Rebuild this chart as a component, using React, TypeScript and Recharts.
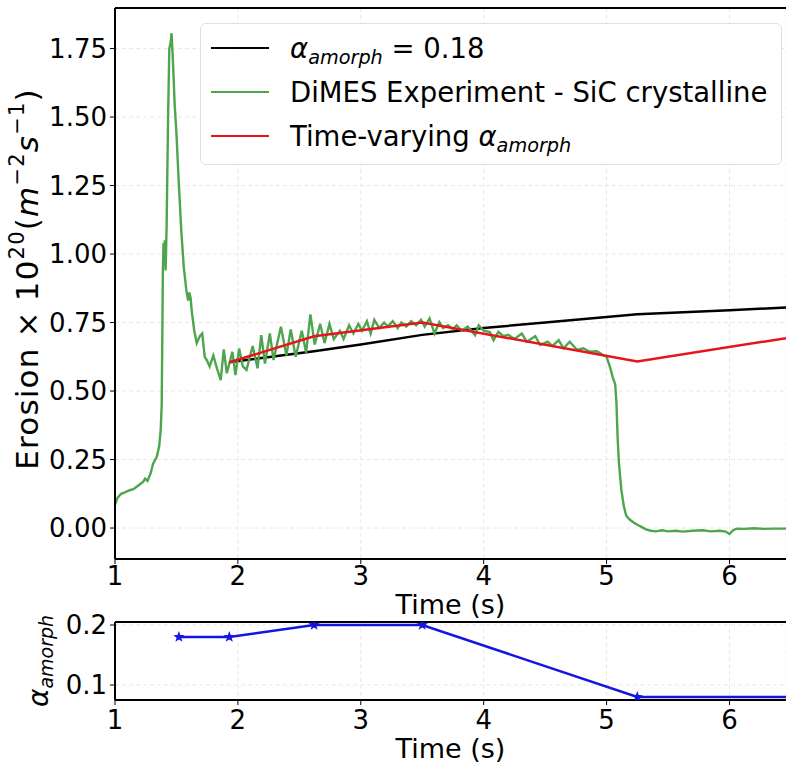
import React from "react";
import { LineChart, Line, XAxis, YAxis, CartesianGrid, Legend, ReferenceLine } from "recharts";

const FONT = "DejaVu Sans";

// DiMES experiment trace
const expTime = [
  1.0, 1.02, 1.05, 1.08, 1.12, 1.15, 1.19, 1.23, 1.245, 1.265, 1.29, 1.31, 1.34, 1.36, 1.372, 1.38,
  1.385, 1.39, 1.395, 1.4, 1.405, 1.412, 1.42, 1.432, 1.442, 1.452, 1.46, 1.47, 1.485, 1.5, 1.52,
  1.54, 1.56, 1.58, 1.595, 1.605, 1.615, 1.625, 1.645, 1.665, 1.69, 1.71, 1.73, 1.75, 1.77, 1.8,
  1.83, 1.86, 1.885, 1.91, 1.955, 1.98, 2.01, 2.04, 2.07, 2.12, 2.16, 2.19, 2.22, 2.26, 2.29, 2.35,
  2.395, 2.43, 2.47, 2.52, 2.555, 2.59, 2.625, 2.67, 2.705, 2.745, 2.78, 2.83, 2.86, 2.905, 2.94,
  2.98, 3.01, 3.05, 3.08, 3.11, 3.15, 3.19, 3.22, 3.26, 3.3, 3.33, 3.37, 3.41, 3.45, 3.49, 3.52,
  3.56, 3.6, 3.64, 3.67, 3.71, 3.75, 3.78, 3.82, 3.87, 3.93, 3.96, 4.0, 4.05, 4.08, 4.12, 4.16,
  4.2, 4.25, 4.31, 4.35, 4.42, 4.46, 4.52, 4.56, 4.61, 4.65, 4.7, 4.76, 4.81, 4.86, 4.92, 4.97,
  5.0, 5.03, 5.05, 5.07, 5.08, 5.09, 5.1, 5.12, 5.14, 5.16, 5.19, 5.22, 5.25, 5.28, 5.32, 5.36,
  5.4, 5.45, 5.5, 5.56, 5.62, 5.7, 5.78, 5.85, 5.92, 5.97, 6.0, 6.03, 6.06, 6.12, 6.2, 6.28, 6.36,
  6.46,
];
const expErosion = [
  0.085, 0.11, 0.125, 0.13, 0.138, 0.142, 0.155, 0.169, 0.18, 0.172, 0.2, 0.235, 0.26, 0.3, 0.36,
  0.45, 0.7, 0.95, 1.04, 0.96, 1.05, 0.94, 1.1, 1.5, 1.75, 1.77, 1.806, 1.72, 1.55, 1.44, 1.25,
  1.08, 0.95, 0.87, 0.83, 0.86, 0.84, 0.79, 0.72, 0.675, 0.7, 0.71, 0.625, 0.61, 0.59, 0.63,
  0.583, 0.54, 0.652, 0.565, 0.643, 0.558, 0.655, 0.59, 0.577, 0.664, 0.583, 0.704, 0.6, 0.71,
  0.613, 0.735, 0.63, 0.725, 0.625, 0.72, 0.64, 0.78, 0.67, 0.745, 0.675, 0.745, 0.69, 0.72, 0.69,
  0.74, 0.71, 0.745, 0.72, 0.755, 0.71, 0.76, 0.73, 0.75, 0.735, 0.755, 0.73, 0.75, 0.735, 0.755,
  0.74, 0.76, 0.735, 0.765, 0.71, 0.752, 0.73, 0.74, 0.725, 0.74, 0.72, 0.735, 0.704, 0.74, 0.72,
  0.715, 0.686, 0.716, 0.7, 0.705, 0.69, 0.71, 0.68, 0.7, 0.668, 0.68, 0.665, 0.686, 0.656, 0.68,
  0.65, 0.656, 0.644, 0.645, 0.632, 0.625, 0.585, 0.55, 0.525, 0.46, 0.33, 0.24, 0.14, 0.08,
  0.045, 0.03, 0.02, 0.012, 0.005, -0.005, -0.01, -0.012, -0.008, -0.012, -0.01, -0.013, -0.01,
  -0.008, -0.012, -0.01, -0.013, -0.022, -0.008, -0.002, -0.003, -0.001, -0.003, -0.002, -0.002,
];

// model with constant alpha = 0.18
const constTime = [1.93, 2.62, 3.0, 3.5, 4.0, 4.5, 5.0, 5.25, 6.0, 6.46];
const constErosion = [0.605, 0.645, 0.67, 0.705, 0.73, 0.75, 0.77, 0.78, 0.795, 0.805];

// model with time-varying alpha
const varTime = [1.93, 2.62, 3.5, 5.25, 6.46];
const varErosion = [0.605, 0.7, 0.75, 0.608, 0.693];

// alpha_amorph schedule (lower panel)
const alphaTime = [1.52, 1.93, 2.62, 3.5, 5.25, 6.46];
const alphaValue = [0.18, 0.18, 0.2, 0.2, 0.08, 0.08];

const timeTicks = [1, 2, 3, 4, 5, 6];
const erosionTicks = [0, 0.25, 0.5, 0.75, 1.0, 1.25, 1.5, 1.75];
const alphaTicks = [0.1, 0.2];

const seriesNames = ["α_amorph = 0.18", "DiMES Experiment - SiC crystalline", "Time-varying α_amorph"];

const toRows = (xs: number[], ys: number[]) => xs.map((t, i) => ({ t, v: ys[i] }));
const expRows = toRows(expTime, expErosion);
const constRows = toRows(constTime, constErosion);
const varRows = toRows(varTime, varErosion);
const alphaRows = toRows(alphaTime, alphaValue);

const X_DOMAIN: [number, number] = [1, 6.46];
const EROSION_DOMAIN: [number, number] = [-0.113, 1.898];
const ALPHA_DOMAIN: [number, number] = [0.075, 0.205];
const axisLine = { stroke: "#000", strokeWidth: 2 };
const gridColor = "#e8e8e8";

const mathText = (s: string) => {
  const parts = s.split("α_amorph");
  return parts.map((p, i) => (
    <React.Fragment key={i}>
      {p}
      {i < parts.length - 1 && (
        <>
          <span style={{ fontStyle: "italic" }}>α</span>
          <span style={{ fontStyle: "italic", fontSize: "0.7em", position: "relative", top: "0.3em" }}>
            amorph
          </span>
        </>
      )}
    </React.Fragment>
  ));
};

const renderLegend = (props: any) => (
  <div
    style={{
      boxSizing: "border-box",
      width: 582,
      height: 142,
      padding: "2px 10px",
      border: "1px solid #e0e0e0",
      borderRadius: 6,
      background: "rgba(255,255,255,0.85)",
      fontFamily: FONT,
      fontSize: 27.5,
      color: "#000",
    }}
  >
    {(props.payload || []).map((entry: any) => (
      <div key={entry.value} style={{ display: "flex", alignItems: "center", height: 44, whiteSpace: "nowrap" }}>
        <span style={{ display: "inline-block", width: 58, borderTop: `2.5px solid ${entry.color}`, marginRight: 21 }} />
        <span>{mathText(entry.value)}</span>
      </div>
    ))}
  </div>
);

const ErosionLabel = () => (
  <text
    transform="translate(38,279) rotate(-90)"
    textAnchor="middle"
    fontFamily={FONT}
    fontSize={31}
    letterSpacing={1.2}
    fill="#000"
  >
    <tspan>Erosion</tspan>
    <tspan dx={10}>×</tspan>
    <tspan dx={9}>10</tspan>
    <tspan fontSize={21} dy={-14}>20</tspan>
    <tspan dy={14}>(</tspan>
    <tspan fontStyle="italic">m</tspan>
    <tspan fontSize={21} dy={-14}>−2</tspan>
    <tspan fontStyle="italic" dy={14}>s</tspan>
    <tspan fontSize={21} dy={-14}>−1</tspan>
    <tspan dy={14}>)</tspan>
  </text>
);

const AlphaLabel = () => (
  <text transform="translate(48,61) rotate(-90)" textAnchor="middle" fontFamily={FONT} fill="#000">
    <tspan fontSize={28} fontStyle="italic">α</tspan>
    <tspan fontSize={19} fontStyle="italic" dy={5}>amorph</tspan>
  </text>
);

const StarDot = (props: any) => {
  const { cx, cy, payload } = props;
  if (cx == null || cy == null || payload.t >= X_DOMAIN[1]) return null;
  const pts: string[] = [];
  for (let i = 0; i < 10; i++) {
    const r = i % 2 === 0 ? 6 : 2.4;
    const a = -Math.PI / 2 + (i * Math.PI) / 5;
    pts.push(`${cx + r * Math.cos(a)},${cy + r * Math.sin(a)}`);
  }
  return <polygon key={`star-${payload.t}`} points={pts.join(" ")} fill="#1515e0" />;
};

export default function App() {
  return (
    <div
      style={{
        position: "absolute",
        left: 0,
        top: 0,
        width: 786,
        height: 764,
        background: "#fff",
        fontFamily: FONT,
        overflow: "hidden",
      }}
    >
      <div style={{ position: "absolute", left: 0, top: 0 }}>
        <LineChart width={786} height={620} margin={{ top: 8, right: 0, left: 0, bottom: 0 }}>
          <CartesianGrid stroke={gridColor} strokeDasharray="4 3" />
          <XAxis
            type="number"
            dataKey="t"
            domain={X_DOMAIN}
            ticks={timeTicks}
            interval={0}
            allowDataOverflow
            height={61}
            tick={{ fontSize: 26, fill: "#000" }}
            tickSize={5}
            tickMargin={3}
            tickLine={{ stroke: "#000" }}
            axisLine={axisLine}
            label={{ value: "Time (s)", position: "insideBottom", offset: 6, fontSize: 27, fill: "#000" }}
          />
          <YAxis
            type="number"
            domain={EROSION_DOMAIN}
            ticks={erosionTicks}
            interval={0}
            allowDataOverflow
            width={115}
            tickFormatter={(v: number) => v.toFixed(2)}
            tick={{ fontSize: 26, fill: "#000" }}
            tickSize={5}
            tickMargin={3}
            tickLine={{ stroke: "#000" }}
            axisLine={axisLine}
            label={<ErosionLabel />}
          />
          <ReferenceLine y={EROSION_DOMAIN[1]} stroke="#000" strokeWidth={2} ifOverflow="visible" />
          <Legend
            verticalAlign="middle"
            align="center"
            layout="horizontal"
            itemSorter={(item: any) => seriesNames.indexOf(item.value)}
            content={renderLegend}
            wrapperStyle={{ left: 200, top: 23, width: 582, height: 142 }}
          />
          <Line
            data={constRows}
            dataKey="v"
            name={seriesNames[0]}
            type="linear"
            stroke="#000"
            strokeWidth={2.5}
            dot={false}
            isAnimationActive={false}
          />
          <Line
            data={expRows}
            dataKey="v"
            name={seriesNames[1]}
            type="linear"
            stroke="#4da64d"
            strokeWidth={2.4}
            dot={false}
            isAnimationActive={false}
          />
          <Line
            data={varRows}
            dataKey="v"
            name={seriesNames[2]}
            type="linear"
            stroke="#e8141b"
            strokeWidth={2.5}
            dot={false}
            isAnimationActive={false}
          />
        </LineChart>
      </div>

      <div style={{ position: "absolute", left: 0, top: 600 }}>
        <LineChart width={786} height={164} margin={{ top: 22, right: 0, left: 0, bottom: 0 }}>
          <CartesianGrid stroke={gridColor} strokeDasharray="4 3" />
          <XAxis
            type="number"
            dataKey="t"
            domain={X_DOMAIN}
            ticks={timeTicks}
            interval={0}
            allowDataOverflow
            height={64}
            tick={{ fontSize: 26, fill: "#000" }}
            tickSize={5}
            tickMargin={6}
            tickLine={{ stroke: "#000" }}
            axisLine={axisLine}
            label={{ value: "Time (s)", position: "insideBottom", offset: 6, fontSize: 27, fill: "#000" }}
          />
          <YAxis
            type="number"
            domain={ALPHA_DOMAIN}
            ticks={alphaTicks}
            interval={0}
            allowDataOverflow
            width={115}
            tickFormatter={(v: number) => v.toFixed(1)}
            tick={{ fontSize: 26, fill: "#000" }}
            tickSize={5}
            tickMargin={3}
            tickLine={{ stroke: "#000" }}
            axisLine={axisLine}
            label={<AlphaLabel />}
          />
          <ReferenceLine y={ALPHA_DOMAIN[1]} stroke="#000" strokeWidth={2} ifOverflow="visible" />
          <Line
            data={alphaRows}
            dataKey="v"
            type="linear"
            stroke="#1515e0"
            strokeWidth={2.5}
            dot={<StarDot />}
            isAnimationActive={false}
          />
        </LineChart>
      </div>
    </div>
  );
}
